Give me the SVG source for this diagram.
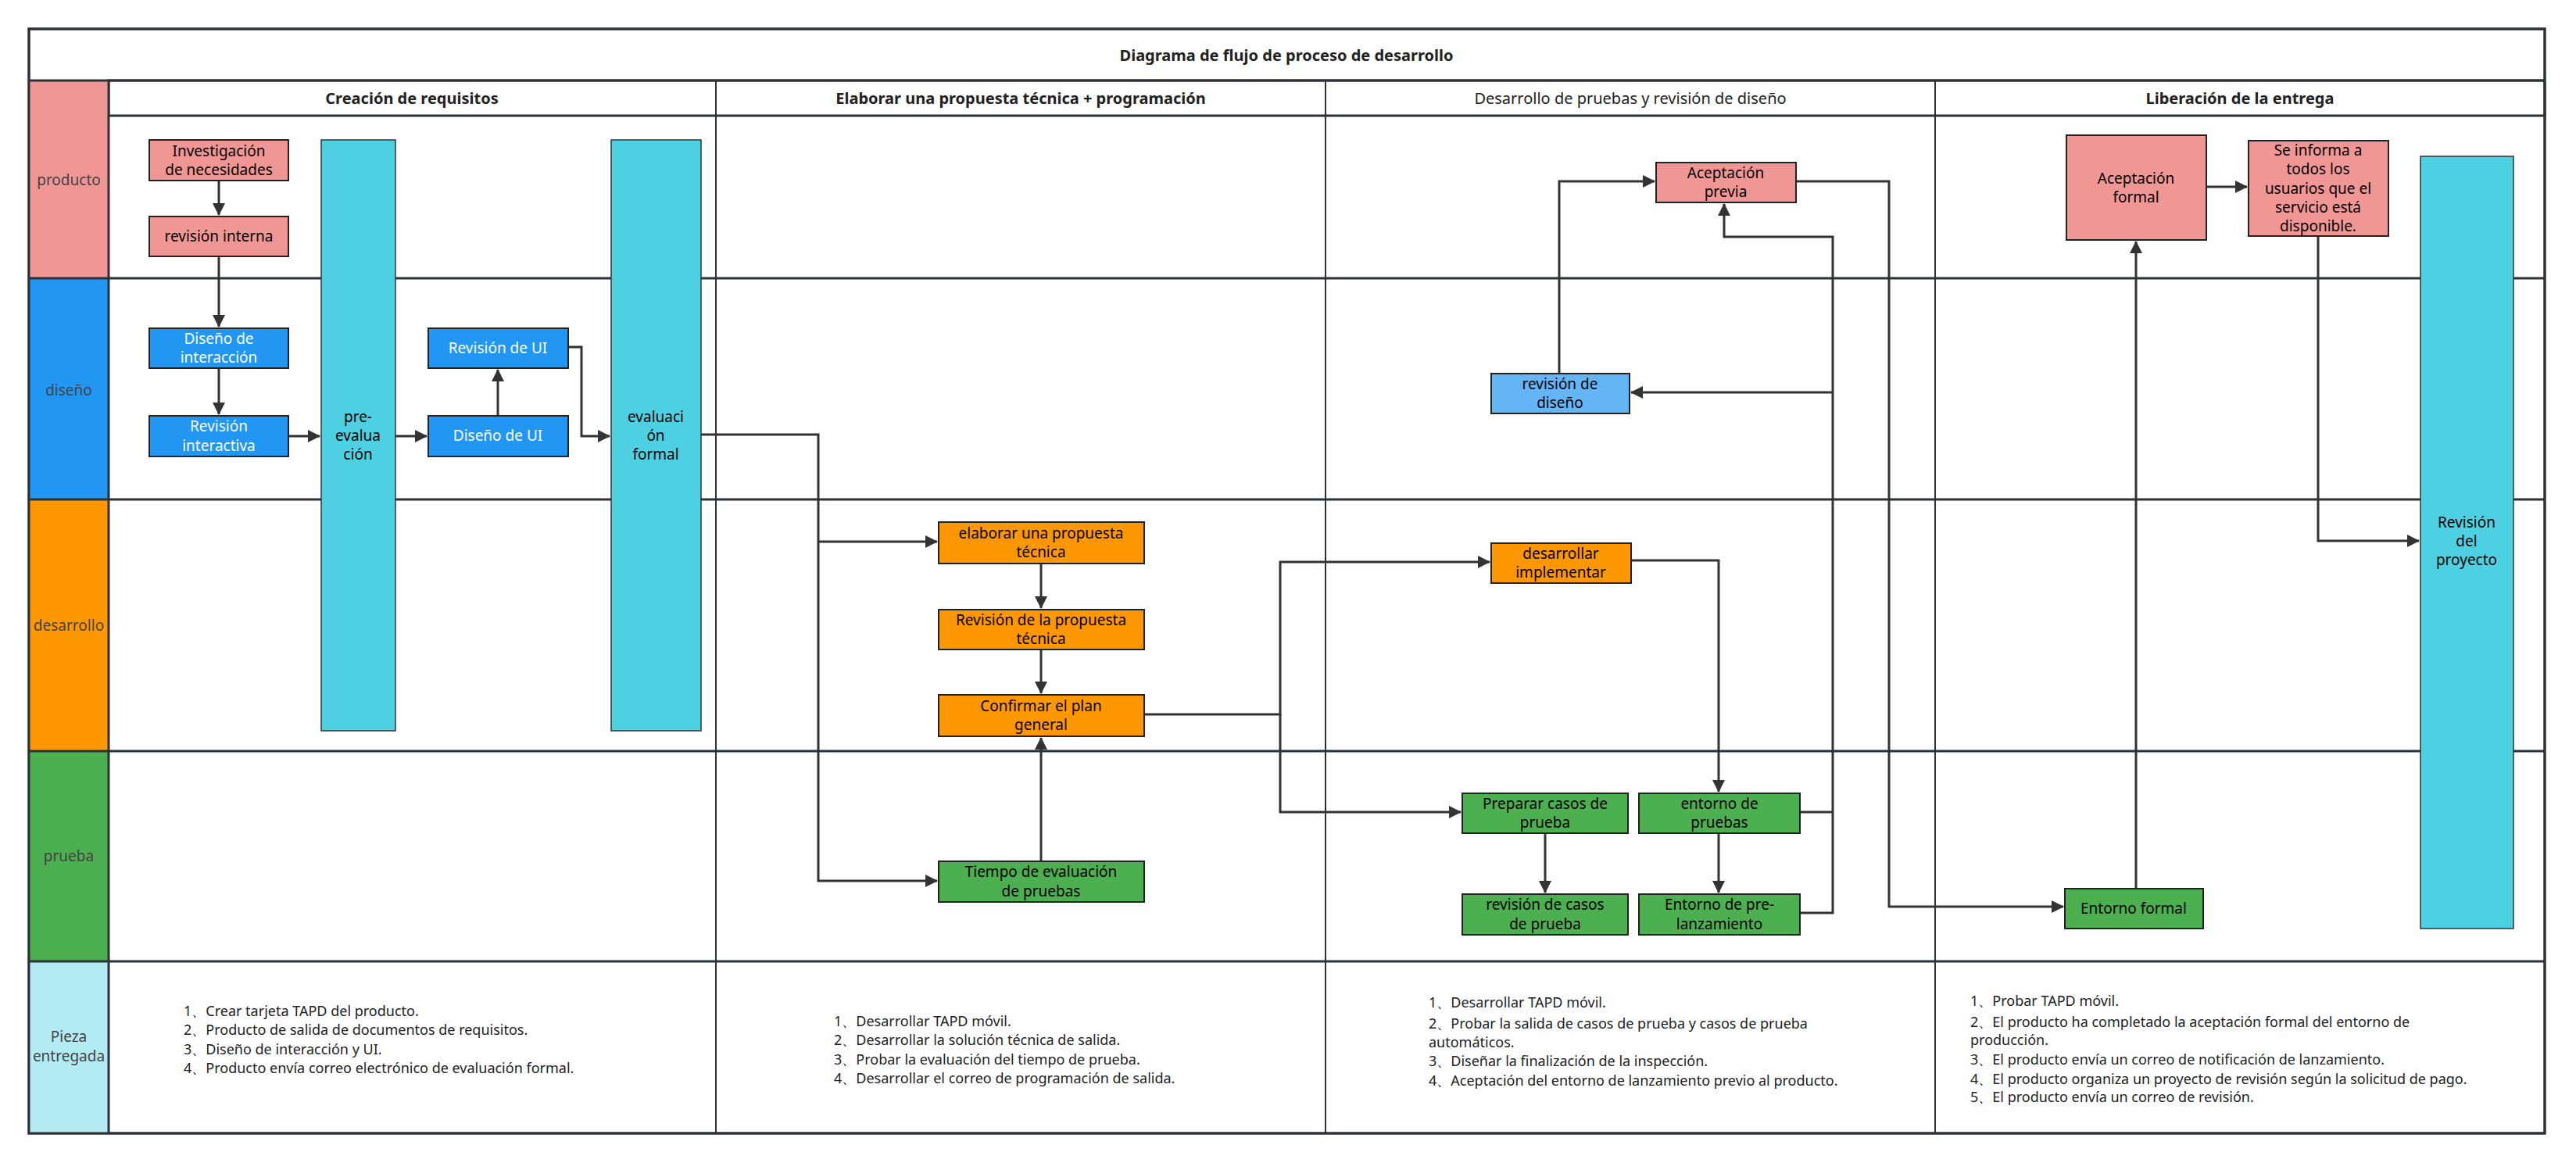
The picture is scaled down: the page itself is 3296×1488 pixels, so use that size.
<svg xmlns="http://www.w3.org/2000/svg" width="3296" height="1488" viewBox="0 0 3296 1488">
<defs>
<marker id="ah" markerWidth="10" markerHeight="10" refX="9" refY="5" orient="auto" markerUnits="userSpaceOnUse" viewBox="0 0 10 10"><path d="M0,0 L10,5 L0,10 z" fill="#333"/></marker>
<marker id="ahs" markerWidth="16" markerHeight="16" refX="15" refY="8" orient="auto" markerUnits="userSpaceOnUse" viewBox="0 0 16 16"><path d="M0,0 L16,8 L0,16 z" fill="#333"/></marker>
</defs>
<style>
text{font-family:"Noto Sans","Open Sans","Liberation Sans",sans-serif;font-size:19px;text-anchor:middle;dominant-baseline:central;fill:#000}
.w{fill:#fff}
.lane{fill:#444}
.hd{font-size:20px;fill:#222}
.b{font-weight:bold}
.list text{text-anchor:start;font-size:18px;fill:#222}
.pk{fill:#F09694;stroke:#222;stroke-width:2}
.bl{fill:#2196F3;stroke:#222;stroke-width:2}
.lb{fill:#64B5F6;stroke:#222;stroke-width:2}
.or{fill:#FF9800;stroke:#222;stroke-width:2}
.gr{fill:#4CAF50;stroke:#222;stroke-width:2}
.cy{fill:#4DD0E1;stroke:#333;stroke-width:1.5}
.grid{stroke:#2c3338;stroke-width:3;fill:none}
.thin{stroke:#2c3338;stroke-width:2;fill:none}
.c{stroke:#333;stroke-width:3;fill:none;marker-end:url(#ahs)}
.cn{stroke:#333;stroke-width:3;fill:none}
</style>
<rect x="0" y="0" width="3296" height="1488" fill="#fff"/>
<g id="table">
<rect x="37" y="37" width="3219" height="1413" fill="#fff" class="grid"/>
<text x="1646" y="70" class="b hd">Diagrama de flujo de proceso de desarrollo</text>
<rect x="139" y="103" width="3117" height="45" fill="#E8EBEE" class="grid"/>
<rect x="37" y="103" width="102" height="253" fill="#F09694"/>
<rect x="37" y="356" width="102" height="283" fill="#2196F3"/>
<rect x="37" y="639" width="102" height="322" fill="#FF9800"/>
<rect x="37" y="961" width="102" height="269" fill="#4CAF50"/>
<rect x="37" y="1230" width="102" height="220" fill="#B2EBF2"/>
<line x1="37" y1="103" x2="3256" y2="103" class="grid"/>
<line x1="37" y1="356" x2="3256" y2="356" class="grid"/>
<line x1="37" y1="639" x2="3256" y2="639" class="grid"/>
<line x1="37" y1="961" x2="3256" y2="961" class="grid"/>
<line x1="37" y1="1230" x2="3256" y2="1230" class="grid"/>
<line x1="139" y1="103" x2="139" y2="1450" class="grid"/>
<line x1="916" y1="103" x2="916" y2="1450" class="thin"/>
<line x1="1696" y1="103" x2="1696" y2="1450" class="thin"/>
<line x1="2476" y1="103" x2="2476" y2="1450" class="thin"/>
<rect x="37" y="37" width="3219" height="1413" class="grid"/>
<text x="527" y="125" class="b hd">Creación de requisitos</text>
<text x="1306" y="125" class="b hd">Elaborar una propuesta técnica + programación</text>
<text x="2086" y="125" class="hd">Desarrollo de pruebas y revisión de diseño</text>
<text x="2866" y="125" class="b hd">Liberación de la entrega</text>
<text x="88" y="230" class="lane">producto</text>
<text x="88" y="499" class="lane">diseño</text>
<text x="88" y="800" class="lane">desarrollo</text>
<text x="88" y="1095" class="lane">prueba</text>
<text x="88" y="1326" class="lane">Pieza</text>
<text x="88" y="1351" class="lane">entregada</text>
</g>
<g id="connectors">
<path d="M280,231 V275" class="c"/>
<path d="M280,328 V418" class="c"/>
<path d="M280,471 V530" class="c"/>
<path d="M369,558 H409" class="c"/>
<path d="M506,558 H546" class="c"/>
<path d="M637,532 V473" class="c"/>
<path d="M727,444 H744 V558 H780" class="c"/>
<path d="M897,556 H1047 V1127 H1199" class="c"/>
<path d="M1047,693 H1199" class="c"/>
<path d="M1332,721 V778" class="c"/>
<path d="M1332,831 V887" class="c"/>
<path d="M1332,1102 V944" class="c"/>
<path d="M1464,914 H1638 V719 H1906" class="c"/>
<path d="M1638,914 V1039 H1869" class="c"/>
<path d="M2087,717 H2199 V1013" class="c"/>
<path d="M1977,1066 V1142" class="c"/>
<path d="M2199,1066 V1142" class="c"/>
<path d="M2303,1039 H2345" class="cn"/>
<path d="M2303,1168 H2345 V303 H2206 V261" class="c"/>
<path d="M2345,502 H2087" class="c"/>
<path d="M1995,478 V232 H2117" class="c"/>
<path d="M2298,232 H2417 V1160 H2640" class="c"/>
<path d="M2733,1137 V309" class="c"/>
<path d="M2823,239 H2875" class="c"/>
<path d="M2966,302 V692 H3095" class="c"/>
</g>
<g id="n-investigacion"><rect x="191" y="179" width="178" height="52" class="pk"/><text x="280" y="193">Investigación</text><text x="280" y="217">de necesidades</text></g>
<g id="n-revint"><rect x="191" y="277" width="178" height="51" class="pk"/><text x="280" y="302">revisión interna</text></g>
<g id="n-disint"><rect x="191" y="420" width="178" height="51" class="bl"/><text x="280" y="433" class="w">Diseño de</text><text x="280" y="457" class="w">interacción</text></g>
<g id="n-revinteractiva"><rect x="191" y="532" width="178" height="52" class="bl"/><text x="280" y="545" class="w">Revisión</text><text x="280" y="570" class="w">interactiva</text></g>
<g id="n-preeval"><rect x="411" y="179" width="95" height="756" class="cy"/><text x="458" y="533">pre-</text><text x="458" y="557">evalua</text><text x="458" y="581">ción</text></g>
<g id="n-revui"><rect x="548" y="420" width="179" height="51" class="bl"/><text x="637" y="445" class="w">Revisión de UI</text></g>
<g id="n-disui"><rect x="548" y="532" width="179" height="52" class="bl"/><text x="637" y="557" class="w">Diseño de UI</text></g>
<g id="n-evalformal"><rect x="782" y="179" width="115" height="756" class="cy"/><text x="839" y="533">evaluaci</text><text x="839" y="557">ón</text><text x="839" y="581">formal</text></g>
<g id="n-elaborar"><rect x="1201" y="668" width="263" height="53" class="or"/><text x="1332" y="682">elaborar una propuesta</text><text x="1332" y="706">técnica</text></g>
<g id="n-revprop"><rect x="1201" y="780" width="263" height="51" class="or"/><text x="1332" y="793">Revisión de la propuesta</text><text x="1332" y="817">técnica</text></g>
<g id="n-confirmar"><rect x="1201" y="889" width="263" height="53" class="or"/><text x="1332" y="903">Confirmar el plan</text><text x="1332" y="927">general</text></g>
<g id="n-tiempo"><rect x="1201" y="1102" width="263" height="52" class="gr"/><text x="1332" y="1115">Tiempo de evaluación</text><text x="1332" y="1140">de pruebas</text></g>
<g id="n-desarrollar"><rect x="1908" y="695" width="179" height="51" class="or"/><text x="1997" y="708">desarrollar</text><text x="1997" y="732">implementar</text></g>
<g id="n-preparar"><rect x="1871" y="1015" width="212" height="51" class="gr"/><text x="1977" y="1028">Preparar casos de</text><text x="1977" y="1052">prueba</text></g>
<g id="n-entorno"><rect x="2097" y="1015" width="206" height="51" class="gr"/><text x="2200" y="1028">entorno de</text><text x="2200" y="1052">pruebas</text></g>
<g id="n-revcasos"><rect x="1871" y="1144" width="212" height="52" class="gr"/><text x="1977" y="1157">revisión de casos</text><text x="1977" y="1182">de prueba</text></g>
<g id="n-prelanz"><rect x="2097" y="1144" width="206" height="52" class="gr"/><text x="2200" y="1157">Entorno de pre-</text><text x="2200" y="1182">lanzamiento</text></g>
<g id="n-revdiseno"><rect x="1908" y="478" width="177" height="51" class="lb"/><text x="1996" y="491">revisión de</text><text x="1996" y="515">diseño</text></g>
<g id="n-aceptprevia"><rect x="2119" y="208" width="179" height="51" class="pk"/><text x="2208" y="221">Aceptación</text><text x="2208" y="245">previa</text></g>
<g id="n-aceptformal"><rect x="2644" y="173" width="179" height="134" class="pk"/><text x="2733" y="228">Aceptación</text><text x="2733" y="252">formal</text></g>
<g id="n-seinforma"><rect x="2877" y="180" width="179" height="122" class="pk"/><text x="2966" y="192">Se informa a</text><text x="2966" y="216">todos los</text><text x="2966" y="241">usuarios que el</text><text x="2966" y="265">servicio está</text><text x="2966" y="289">disponible.</text></g>
<g id="n-entformal"><rect x="2642" y="1137" width="177" height="51" class="gr"/><text x="2730" y="1162">Entorno formal</text></g>
<g id="n-revproyecto"><rect x="3097" y="200" width="119" height="988" class="cy"/><text x="3156" y="668">Revisión</text><text x="3156" y="692">del</text><text x="3156" y="716">proyecto</text></g>
<g id="deliverables" class="list">
<text x="235" y="1293">1、Crear tarjeta TAPD del producto.</text>
<text x="235" y="1317">2、Producto de salida de documentos de requisitos.</text>
<text x="235" y="1342">3、Diseño de interacción y UI.</text>
<text x="235" y="1366">4、Producto envía correo electrónico de evaluación formal.</text>
<text x="1067" y="1306">1、Desarrollar TAPD móvil.</text>
<text x="1067" y="1330">2、Desarrollar la solución técnica de salida.</text>
<text x="1067" y="1355">3、Probar la evaluación del tiempo de prueba.</text>
<text x="1067" y="1379">4、Desarrollar el correo de programación de salida.</text>
<text x="1828" y="1282">1、Desarrollar TAPD móvil.</text>
<text x="1828" y="1309">2、Probar la salida de casos de prueba y casos de prueba</text>
<text x="1828" y="1333">automáticos.</text>
<text x="1828" y="1357">3、Diseñar la finalización de la inspección.</text>
<text x="1828" y="1382">4、Aceptación del entorno de lanzamiento previo al producto.</text>
<text x="2521" y="1280">1、Probar TAPD móvil.</text>
<text x="2521" y="1307">2、El producto ha completado la aceptación formal del entorno de</text>
<text x="2521" y="1330">producción.</text>
<text x="2521" y="1355">3、El producto envía un correo de notificación de lanzamiento.</text>
<text x="2521" y="1380">4、El producto organiza un proyecto de revisión según la solicitud de pago.</text>
<text x="2521" y="1403">5、El producto envía un correo de revisión.</text>
</g>
</svg>
